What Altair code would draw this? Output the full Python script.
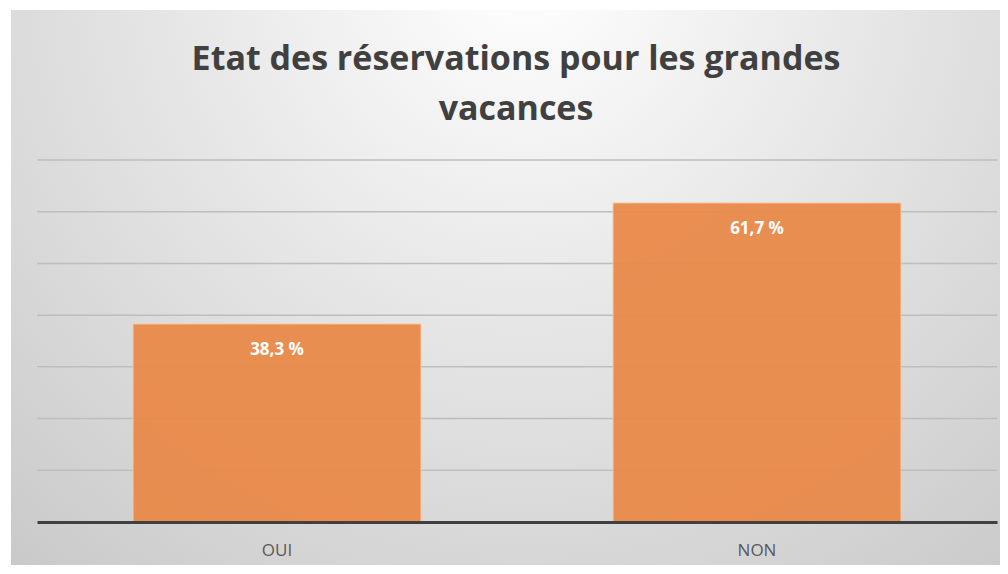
import altair as alt
import pandas as pd

categories = ["OUI", "NON"]
values = [38.3, 61.7]
labels = ["38,3 %", "61,7 %"]
grid_values = [10, 20, 30, 40, 50, 60, 70]
title_lines = ["Etat des réservations pour les grandes", "vacances"]

df = pd.DataFrame({"cat": categories, "val": values, "lab": labels})
gdf = pd.DataFrame({"g": grid_values})

W, H = 960, 362
PL, PT, PR, PB = 29, 152, 3, 43
FONT = "Open Sans"

base = alt.Chart(df)

bg = base.mark_rect(
    fill=alt.Gradient(
        gradient="radial",
        x1=0.52, y1=0.18, r1=0.0,
        x2=0.52, y2=0.18, r2=0.8,
        stops=[alt.GradientStop(color="#ffffff", offset=0),
               alt.GradientStop(color="#e6e6e6", offset=0.45),
               alt.GradientStop(color="#c9c9c9", offset=1)],
    ),
).encode(
    x=alt.value(-PL + 3), x2=alt.value(W + PR),
    y=alt.value(-PT + 2), y2=alt.value(H + PB),
)

title = alt.Chart(pd.DataFrame({"t": [0]})).mark_text(
    font=FONT, fontSize=34, fontWeight="bold", color="#404040",
    lineHeight=50, align="center", baseline="alphabetic",
).encode(
    x=alt.value(W / 2 - 1), y=alt.value(-90),
    text=alt.value(title_lines),
)

grid = alt.Chart(gdf).mark_rule(color="#bdbdbd", strokeWidth=1.5).encode(
    y=alt.Y("g:Q", scale=alt.Scale(domain=[0, 70], nice=False), axis=None),
    x=alt.value(0), x2=alt.value(W),
)

bars = base.mark_bar(color="#EA8A4A", stroke="#F6C9A6", strokeWidth=1,
                     opacity=0.95).encode(
    x=alt.X("cat:N", sort=categories, title=None,
            scale=alt.Scale(paddingInner=0.4, paddingOuter=0.2),
            axis=alt.Axis(labelAngle=0, labelFont=FONT, labelFontSize=17,
                          labelColor="#595959", labelPadding=20, ticks=False,
                          domainColor="#404040", domainWidth=3, zindex=1)),
    y=alt.Y("val:Q", title=None, scale=alt.Scale(domain=[0, 70], nice=False),
            axis=None),
)

text = base.mark_text(color="white", font=FONT, fontSize=17, fontWeight="bold",
                      baseline="middle", dy=26).encode(
    x=alt.X("cat:N", sort=categories),
    y=alt.Y("val:Q"),
    text="lab:N",
)

chart = alt.layer(bg, title, grid, bars, text).properties(
    width=W, height=H,
    padding={"left": PL, "top": PT, "right": PR, "bottom": PB},
    autosize=alt.AutoSizeParams(type="none"),
    background="white",
).configure_view(stroke=None)

chart.save("out.html", embed_options={"renderer": "svg", "actions": False})
